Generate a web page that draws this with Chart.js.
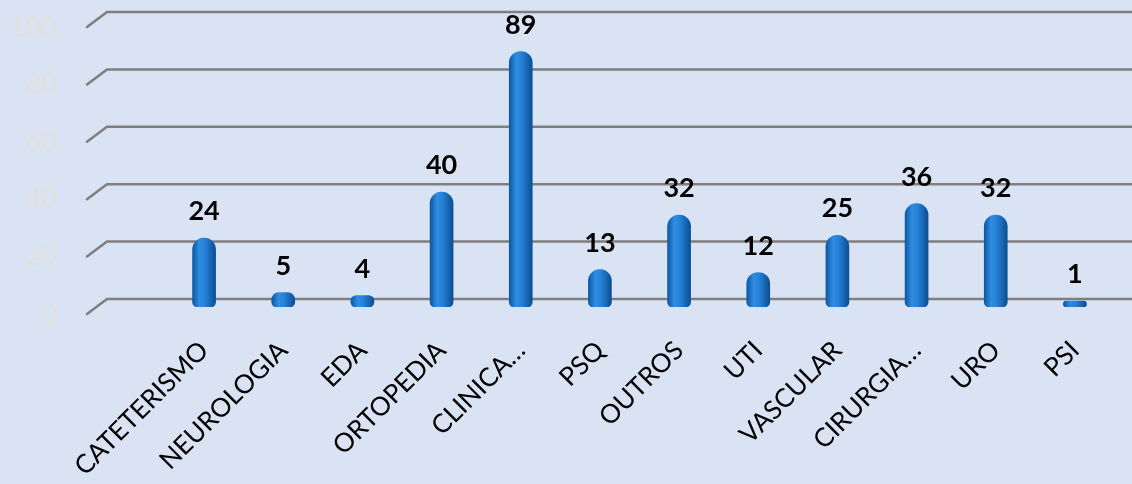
<!DOCTYPE html>
<html>
<head>
<meta charset="utf-8">
<script src="https://cdn.jsdelivr.net/npm/chart.js@4.4.1/dist/chart.umd.min.js"></script>
<style>
    html, body { margin: 0; padding: 0; background: #dae3f3; }
    #wrap { width: 1132px; height: 484px; position: relative; }
</style>
</head>
<body>
<div id="wrap"><canvas id="setoresChart"></canvas></div>
<script>
// dados do gráfico
const categorias = ['CATETERISMO', 'NEUROLOGIA', 'EDA', 'ORTOPEDIA', 'CLINICA…', 'PSQ',
    'OUTROS', 'UTI', 'VASCULAR', 'CIRURGIA…', 'URO', 'PSI'];
const valores = [24, 5, 4, 40, 89, 13, 32, 12, 25, 36, 32, 1];
const yTicks = [0, 20, 40, 60, 80, 100];

const FONTE = 'Lato, "Open Sans", sans-serif';

// grade em "3D": linha inclinada + linha horizontal
const gradePlugin = {
    id: 'grade3d',
    beforeDatasetsDraw(chart) {
        const ctx = chart.ctx;
        const y = chart.scales.y;
        ctx.save();
        ctx.strokeStyle = '#7f7f7f';
        ctx.lineWidth = 2.5;
        ctx.lineCap = 'round';
        yTicks.forEach(v => {
            const py = y.getPixelForValue(v) - 8;
            ctx.beginPath();
            ctx.moveTo(87, py + 15);
            ctx.lineTo(107, py);
            ctx.lineTo(chart.width, py);
            ctx.stroke();
        });
        // rótulos do eixo y (bem claros)
        ctx.fillStyle = '#e2e0dc';
        ctx.font = '27px ' + FONTE;
        ctx.textAlign = 'right';
        ctx.textBaseline = 'middle';
        yTicks.forEach(v => {
            ctx.fillText(String(v), 57, y.getPixelForValue(v) + 7);
        });
        ctx.restore();
    },
    afterDatasetsDraw(chart) {
        const ctx = chart.ctx;
        const meta = chart.getDatasetMeta(0);
        ctx.save();
        ctx.fillStyle = '#000';
        ctx.font = 'bold 27px ' + FONTE;
        ctx.textAlign = 'center';
        ctx.textBaseline = 'alphabetic';
        meta.data.forEach((bar, i) => {
            ctx.fillText(String(valores[i]), bar.x, bar.y - 18);
        });
        ctx.restore();
    }
};

// gradiente horizontal para dar efeito de cilindro
function corCilindro(context) {
    const chart = context.chart;
    if (!chart.chartArea || context.dataIndex === undefined) return '#1f77d0';
    const x = chart.scales.x.getPixelForValue(context.dataIndex);
    const g = chart.ctx.createLinearGradient(x - 11.5, 0, x + 11.5, 0);
    g.addColorStop(0, '#0c58a3');
    g.addColorStop(0.3, '#2f8de2');
    g.addColorStop(0.55, '#2580d6');
    g.addColorStop(1, '#0b4e93');
    return g;
}

new Chart(document.getElementById('setoresChart'), {
    type: 'bar',
    data: {
        labels: categorias,
        datasets: [{
            data: valores,
            backgroundColor: corCilindro,
            borderWidth: 0,
            borderSkipped: false,
            barThickness: 23,
            minBarLength: 6,
            borderRadius: { topLeft: 11.5, topRight: 11.5, bottomLeft: 5, bottomRight: 5 }
        }]
    },
    options: {
        responsive: true,
        maintainAspectRatio: false,
        animation: false,
        layout: {
            padding: { left: 164.5, right: 17.5, top: 20, bottom: 0 }
        },
        plugins: {
            legend: { display: false },
            tooltip: { enabled: false }
        },
        scales: {
            x: {
                grid: { display: false },
                border: { display: false },
                ticks: {
                    color: '#000',
                    font: { family: FONTE, size: 26 },
                    minRotation: 45,
                    maxRotation: 45,
                    autoSkip: false,
                    padding: 20
                },
                afterFit: function(scale) { scale.height = 177; }
            },
            y: {
                display: false,
                min: 0,
                max: 100
            }
        }
    },
    plugins: [gradePlugin]
});
</script>
</body>
</html>
